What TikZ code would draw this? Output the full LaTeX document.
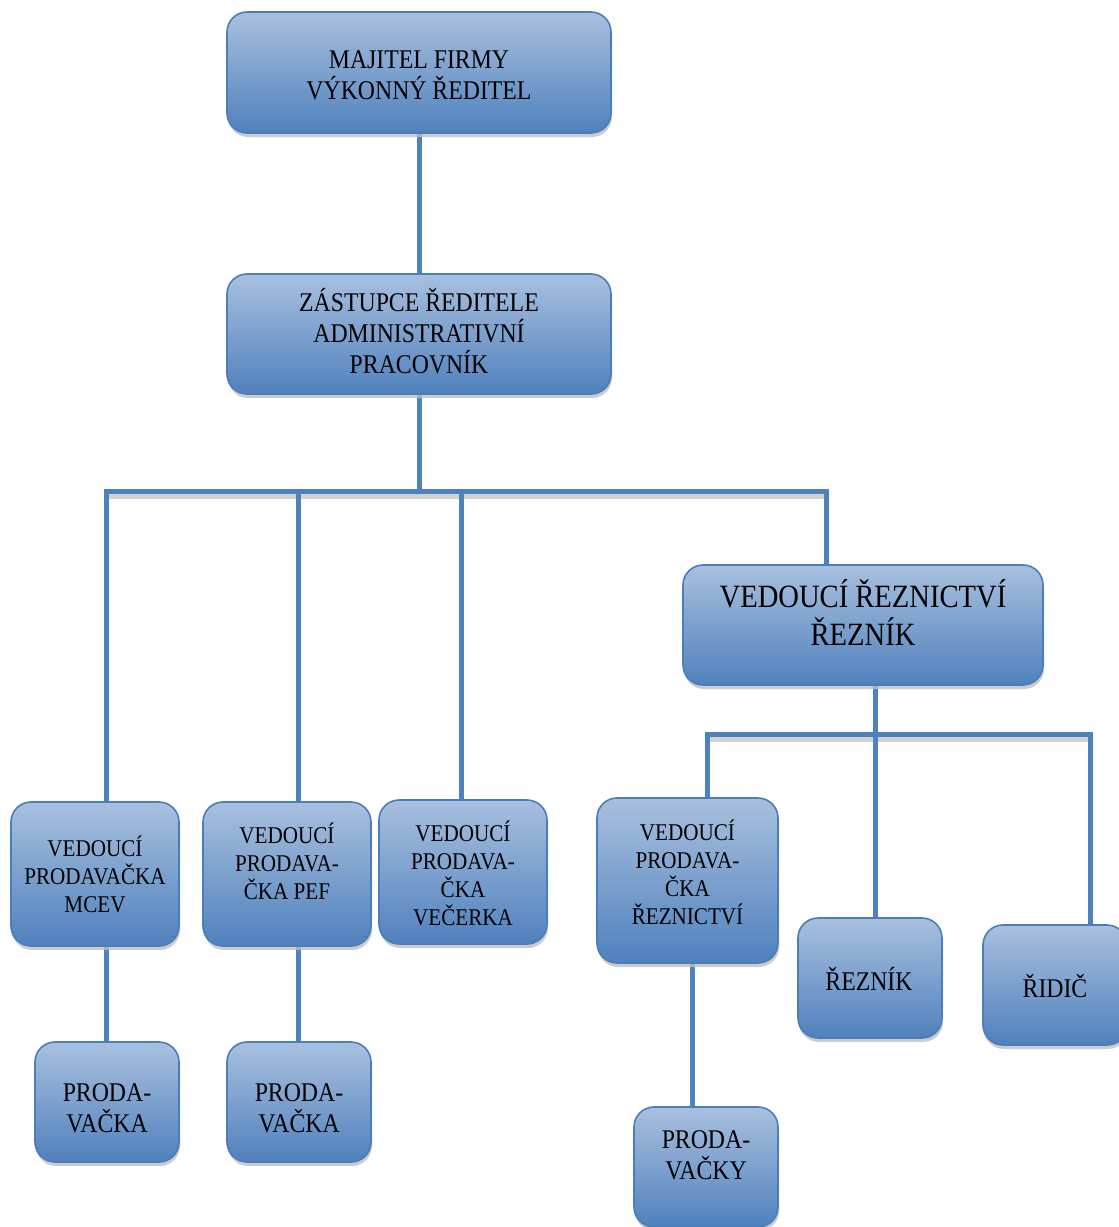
\documentclass[tikz,border=0pt]{standalone}
\usepackage{fontspec}
\setmainfont[FakeStretch=0.88]{Liberation Serif}
\usetikzlibrary{backgrounds,shadows}
\definecolor{boxtop}{HTML}{A9C0DF}
\definecolor{boxbot}{HTML}{4F81BD}
\definecolor{boxline}{HTML}{4A7EBB}
\definecolor{conn}{HTML}{4F81BD}
\tikzset{
  orgbox/.style={draw=boxline, line width=1.6pt, rounded corners=20pt,
    top color=boxtop, bottom color=boxbot, shading angle=0,
    drop shadow={shadow xshift=1pt, shadow yshift=-4pt, fill=black!25, opacity=0.8},
    inner sep=0pt, anchor=center},
  txtA/.style={align=center, font=\fontsize{27}{31}\selectfont, text=black},
  txtB/.style={align=center, font=\fontsize{24}{28}\selectfont, text=black},
  txtC/.style={align=center, font=\fontsize{32.5}{38}\selectfont, text=black},
  connector/.style={draw=conn, line width=5pt},
  connshadow/.style={draw=black!18, line width=5pt},
}
\begin{document}
\begin{tikzpicture}[x=1pt,y=-1pt]
\useasboundingbox (0,0) rectangle (1119,1227);
% boxes
\node[orgbox, minimum width=384, minimum height=121] (own) at (419,72.5) {};
\node[orgbox, minimum width=384, minimum height=120] (dep) at (419,334) {};
\node[orgbox, minimum width=360, minimum height=120] (butch) at (863,625) {};
\node[orgbox, minimum width=168, minimum height=144] (mcev) at (95,874) {};
\node[orgbox, minimum width=168, minimum height=144] (pef) at (287,874) {};
\node[orgbox, minimum width=168, minimum height=144] (vec) at (463,872) {};
\node[orgbox, minimum width=181, minimum height=165] (lead) at (687.5,880.5) {};
\node[orgbox, minimum width=144, minimum height=120] (rez) at (870,978) {};
\node[orgbox, minimum width=144, minimum height=120] (rid) at (1055,985) {};
\node[orgbox, minimum width=144, minimum height=120] (pa) at (107,1102) {};
\node[orgbox, minimum width=144, minimum height=120] (pb) at (299,1102) {};
\node[orgbox, minimum width=144, minimum height=120] (pc) at (706,1167) {};
% texts
\node[txtA] (t-own) at (419,75) {MAJITEL FIRMY\\VÝKONNÝ ŘEDITEL};
\node[txtA] (t-dep) at (419,331) {ZÁSTUPCE ŘEDITELE\\ADMINISTRATIVNÍ\\PRACOVNÍK};
\node[txtC] (t-butch) at (863,613) {VEDOUCÍ ŘEZNICTVÍ\\ŘEZNÍK};
\node[txtB] (t-mcev) at (95,874) {VEDOUCÍ\\PRODAVAČKA\\MCEV};
\node[txtB] (t-pef) at (287,861) {VEDOUCÍ\\PRODAVA-\\ČKA PEF};
\node[txtB] (t-vec) at (463,873) {VEDOUCÍ\\PRODAVA-\\ČKA\\VEČERKA};
\node[txtB] (t-lead) at (687.5,872) {VEDOUCÍ\\PRODAVA-\\ČKA\\ŘEZNICTVÍ};
\node[txtA] (t-rez) at (869,979) {ŘEZNÍK};
\node[txtA] (t-rid) at (1055,986) {ŘIDIČ};
\node[txtA] (t-pa) at (107,1108) {PRODA-\\VAČKA};
\node[txtA] (t-pb) at (299,1108) {PRODA-\\VAČKA};
\node[txtA] (t-pc) at (706,1155) {PRODA-\\VAČKY};
% junction coordinates
\coordinate (j1) at (419,491);
\coordinate (j2) at (875,734);
\begin{pgfonlayer}{background}
  % shadows of bars
  \draw[connshadow] (106,496) -- (826,496);
  \draw[connshadow] (707,739) -- (1090,739);
  % main
  \draw[connector] (own.south) -- (dep.north);
  \draw[connector] (dep.south) -- (j1);
  \draw[connector] (mcev.north -| 106,0) |- (j1) -| (butch.north -| 826,0);
  \draw[connector] (pef.north -| 298,0) -- (298,491);
  \draw[connector] (vec.north -| 461,0) -- (461,491);
  \draw[connector] (butch.south -| j2) -- (rez.north -| j2);
  \draw[connector] (lead.north -| 707,0) |- (j2) -| (rid.north -| 1090,0);
  \draw[connector] (mcev.south -| 106,0) -- (pa.north -| 106,0);
  \draw[connector] (pef.south -| 298,0) -- (pb.north -| 298,0);
  \draw[connector] (lead.south -| 692,0) -- (pc.north -| 692,0);
\end{pgfonlayer}
\end{tikzpicture}
\end{document}
